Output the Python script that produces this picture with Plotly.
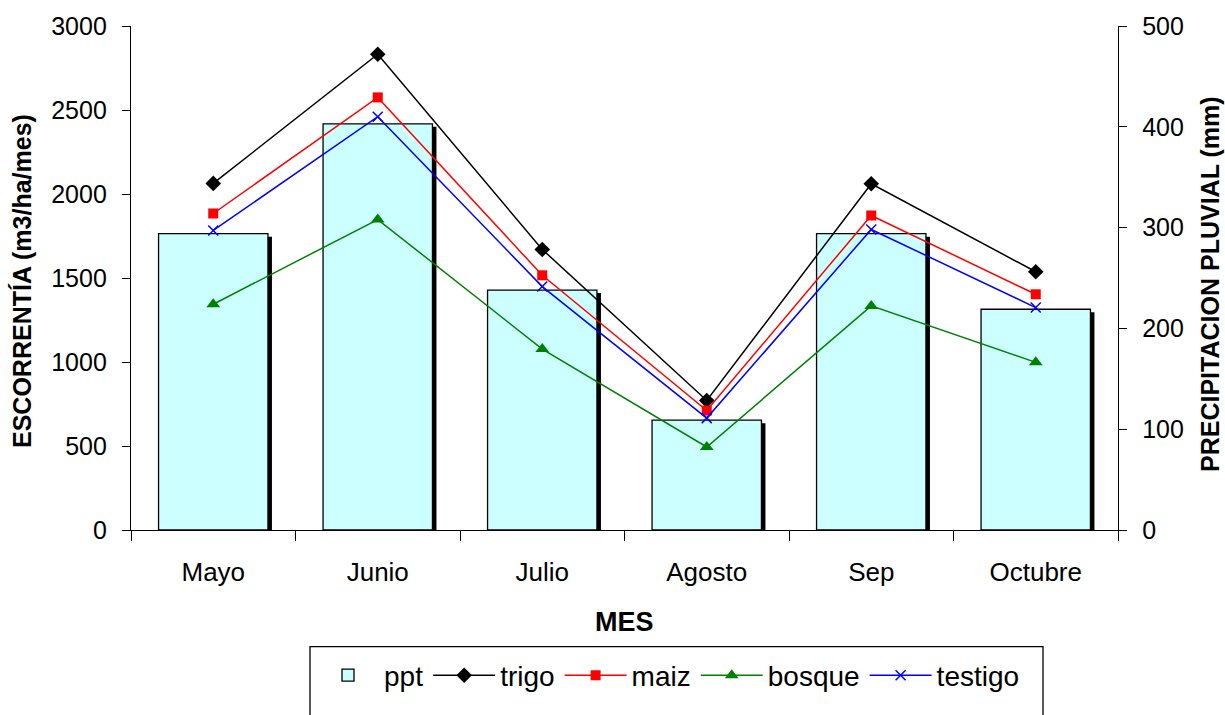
import plotly.graph_objects as go

meses = ["Mayo", "Junio", "Julio", "Agosto", "Sep", "Octubre"]
ppt = [294, 403, 238, 109, 294, 219]
trigo = [2063, 2832, 1670, 771, 2061, 1537]
maiz = [1884, 2575, 1516, 711, 1872, 1403]
bosque = [1344, 1848, 1077, 494, 1334, 998]
testigo = [1783, 2460, 1449, 666, 1789, 1324]

FONT = "Arial, Liberation Sans, sans-serif"
BW = 0.665
SHIFT = 4 / 164.5

fig = go.Figure()
# shadow of bars
fig.add_trace(go.Bar(x=meses, y=ppt, base=-3, width=BW, offset=-BW / 2 + SHIFT,
                     marker=dict(color="black", line=dict(width=0)),
                     showlegend=False, hoverinfo="skip", yaxis="y"))
fig.add_trace(go.Bar(x=meses, y=ppt, width=BW, offset=-BW / 2, name="ppt",
                     marker=dict(color="#CCFFFF", line=dict(color="black", width=1.3)),
                     yaxis="y"))

series = [
    ("trigo", trigo, "black", "diamond", 12),
    ("maiz", maiz, "#FF0000", "square", 10),
    ("bosque", bosque, "#008000", "triangle-up", 12),
    ("testigo", testigo, "#0000FF", "x-thin", 10),
]
for name, vals, col, sym, sz in series:
    fig.add_trace(go.Scatter(x=meses, y=vals, name=name, mode="lines+markers",
                             line=dict(color=col, width=1.5),
                             marker=dict(symbol=sym, size=sz, color=col,
                                         line=dict(color=col, width=1.5 if sym == "x-thin" else 0)),
                             yaxis="y2"))

L, R, T, B = 131, 1118, 24, 530
W, H = 1225, 715
pw, ph = R - L, B - T

def px_x(p):
    return (p - L) / pw

def px_y(p):
    return (B - p) / ph

fig.update_layout(
    width=W, height=H,
    margin=dict(l=L, r=W - R, t=T, b=H - B, pad=0),
    paper_bgcolor="white", plot_bgcolor="white",
    font=dict(family=FONT, size=26, color="black"),
    barmode="overlay",
    showlegend=True,
    legend=dict(orientation="h", x=px_x(312), xanchor="left",
                y=px_y(651), yanchor="top", itemwidth=62,
                borderwidth=0, bgcolor="rgba(0,0,0,0)",
                font=dict(size=28, family=FONT), traceorder="normal"),
    xaxis=dict(type="category", showline=True, linecolor="black", linewidth=1.3,
               ticks="outside", tickson="boundaries", ticklen=10, tickcolor="black",
               tickwidth=1.3, showgrid=False, zeroline=False,
               tickfont=dict(size=26), ticklabelstandoff=19),
    yaxis=dict(side="right", range=[0, 500], dtick=100, showline=True, linecolor="black",
               linewidth=1.3, ticks="outside", ticklen=8, tickcolor="black", tickwidth=1.3,
               showgrid=False, zeroline=False, tickfont=dict(size=25), ticklabelstandoff=10),
    yaxis2=dict(side="left", overlaying="y", range=[0, 3000], dtick=500, showline=True,
                linecolor="black", linewidth=1.3, ticks="outside", ticklen=8, tickcolor="black",
                tickwidth=1.3, showgrid=False, zeroline=False, tickfont=dict(size=25),
                ticklabelstandoff=10),
    shapes=[
        dict(type="rect", xref="paper", yref="paper", x0=px_x(310), x1=px_x(1043),
             y0=px_y(647), y1=px_y(740), line=dict(color="black", width=1.3),
             fillcolor="rgba(0,0,0,0)", layer="above"),
    ],
    annotations=[
        dict(text="<b>ESCORRENTÍA (m3/ha/mes)</b>", xref="paper", yref="paper",
             x=px_x(22), y=px_y(280), textangle=-90, showarrow=False,
             font=dict(size=25, family=FONT), xanchor="center", yanchor="middle"),
        dict(text="<b>PRECIPITACION PLUVIAL (mm)</b>", xref="paper", yref="paper",
             x=px_x(1210), y=px_y(283), textangle=-90, showarrow=False,
             font=dict(size=25, family=FONT), xanchor="center", yanchor="middle"),
        dict(text="<b>MES</b>", xref="paper", yref="paper",
             x=px_x(624), y=px_y(622), showarrow=False,
             font=dict(size=27, family=FONT), xanchor="center", yanchor="middle"),
    ],
)

fig.write_html("out.html", config={"displayModeBar": False},
               post_script="document.body.style.margin='0';")
